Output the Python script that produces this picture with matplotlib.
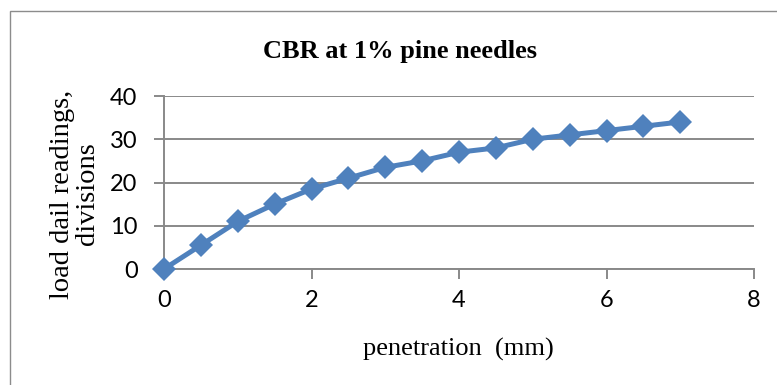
import matplotlib
matplotlib.use("Agg")
import matplotlib.pyplot as plt
from matplotlib.patches import Rectangle

penetration = [0, 0.5, 1, 1.5, 2, 2.5, 3, 3.5, 4, 4.5, 5, 5.5, 6, 6.5, 7]
load_readings = [0, 5.5, 11, 15, 18.5, 21, 23.5, 25, 27, 28, 30, 31, 32, 33, 34]
x_ticks = [0, 2, 4, 6, 8]
y_ticks = [0, 10, 20, 30, 40]
title = "CBR at 1% pine needles"
x_label = "penetration  (mm)"
y_label = "load dail readings,\ndivisions"

W, H = 777, 385
fig = plt.figure(figsize=(W / 100, H / 100), dpi=100)
fig.patch.set_facecolor("white")

# chart area border (extends beyond right/bottom edge)
fig.patches.append(Rectangle((10 / W, -0.1), 1.2, (H - 11) / H + 0.1,
                             transform=fig.transFigure, fill=False,
                             edgecolor="#8c8c8c", linewidth=1.0))

ax = fig.add_axes([164 / W, 1 - 269 / H, (754 - 164) / W, (269 - 96) / H])
grid_c = "#898989"
ax.set_xlim(0, 8)
ax.set_ylim(0, 40)
ax.set_xticks(x_ticks)
ax.set_yticks(y_ticks)
ax.yaxis.grid(True, color=grid_c, linewidth=1.4)
ax.set_axisbelow(True)
for s in ["top", "right"]:
    ax.spines[s].set_visible(False)
for s in ["left", "bottom"]:
    ax.spines[s].set_color(grid_c)
    ax.spines[s].set_linewidth(1.4)
ax.tick_params(axis="both", direction="out", length=7, width=1.4, color=grid_c,
               labelsize=17)
ax.tick_params(axis="y", pad=12)
ax.tick_params(axis="x", pad=8)
for lab in ax.get_xticklabels() + ax.get_yticklabels():
    lab.set_fontfamily("Lato")

ax.plot(penetration, load_readings, color="#4f81bd", linewidth=3.6,
        marker="D", markersize=12, markeredgewidth=0, clip_on=False, zorder=3)

fig.text(400 / W, 1 - 58 / H, title, ha="center", va="baseline",
         fontfamily="Liberation Serif", fontweight="bold", fontsize=19)
fig.text(458 / W, 1 - 356 / H, x_label, ha="center", va="baseline",
         fontfamily="Liberation Serif", fontsize=19)
fig.text(75 / W, 1 - 194 / H, y_label, ha="center", va="center", rotation=90,
         fontfamily="Liberation Serif", fontsize=20.5, multialignment="center",
         linespacing=1.05)

fig.savefig("out.png", dpi=100, facecolor="white")
